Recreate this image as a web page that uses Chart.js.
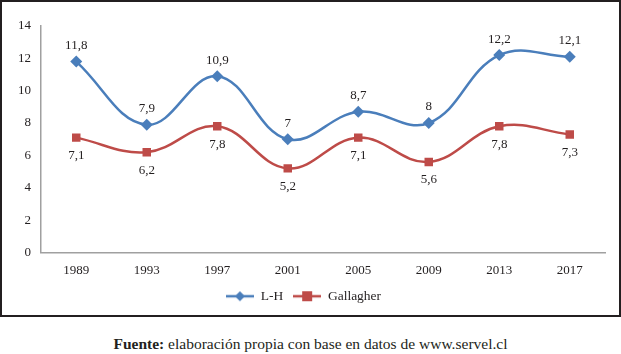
<!DOCTYPE html>
<html>
<head>
<meta charset="utf-8">
<script src="https://cdn.jsdelivr.net/npm/chart.js@4/dist/chart.umd.min.js"></script>
<style>
  body { margin: 0; background: #fff; width: 621px; height: 354px; position: relative; font-family: "Liberation Serif", "DejaVu Serif", serif; }
  #box { position: absolute; left: 0; top: 0; width: 617px; height: 313px; border: 2px solid #231f20; }
  #caption { position: absolute; left: 0; width: 621px; top: 335px; text-align: center; font-size: 15.5px; color: #231f20; font-family: "Liberation Serif", serif; }
</style>
</head>
<body>
<div id="box"><canvas id="chart" width="617" height="313"></canvas></div>
<div id="caption"><b>Fuente:</b> elaboración propia con base en datos de www.servel.cl</div>
<script>
const years = ['1989', '1993', '1997', '2001', '2005', '2009', '2013', '2017'];
const lhValues = [11.8, 7.9, 10.9, 7, 8.7, 8, 12.2, 12.1];
const gallagherValues = [7.1, 6.2, 7.8, 5.2, 7.1, 5.6, 7.8, 7.3];
const yTicks = [0, 2, 4, 6, 8, 10, 12, 14];

const blue = '#4a7ebb';
const red = '#be4b48';
const fontFamily = '"Liberation Serif", "DejaVu Serif", serif';

// legend icon: short line with marker in the middle
function legendIcon(color, shape) {
  const c = document.createElement('canvas');
  c.width = 28; c.height = 12;
  const g = c.getContext('2d');
  g.strokeStyle = color; g.lineWidth = 2.5;
  g.beginPath(); g.moveTo(0, 6); g.lineTo(28, 6); g.stroke();
  g.fillStyle = color;
  if (shape === 'diamond') {
    g.beginPath(); g.moveTo(14, 1); g.lineTo(19, 6); g.lineTo(14, 11); g.lineTo(9, 6); g.closePath(); g.fill();
  } else {
    g.fillRect(9, 1, 10, 10);
  }
  return c;
}

const valueLabels = {
  id: 'valueLabels',
  afterDatasetsDraw(chart) {
    const ctx = chart.ctx;
    ctx.save();
    ctx.font = '13px ' + fontFamily;
    ctx.fillStyle = '#231f20';
    ctx.textAlign = 'center';
    ctx.textBaseline = 'middle';
    chart.data.datasets.forEach((ds, i) => {
      const meta = chart.getDatasetMeta(i);
      meta.data.forEach((pt, j) => {
        const txt = String(ds.data[j]).replace('.', ',');
        const dy = i === 0 ? -16 : 18;
        ctx.fillText(txt, pt.x, pt.y + dy);
      });
    });
    ctx.restore();
  }
};

const config = {
  type: 'line',
  data: {
    labels: years,
    datasets: [
      {
        label: 'L-H',
        data: lhValues,
        borderColor: blue,
        backgroundColor: blue,
        borderWidth: 2.5,
        tension: 0.4,
        pointStyle: 'rectRot',
        pointRadius: 6,
        pointBorderWidth: 0
      },
      {
        label: 'Gallagher',
        data: gallagherValues,
        borderColor: red,
        backgroundColor: red,
        borderWidth: 2.5,
        tension: 0.4,
        pointStyle: 'rect',
        pointRadius: 6,
        pointBorderWidth: 0
      }
    ]
  },
  options: {
    responsive: false,
    animation: false,
    layout: { padding: { top: 24, right: 14, left: 0, bottom: 2 } },
    plugins: {
      tooltip: { enabled: false },
      legend: {
        position: 'bottom',
        labels: {
          font: { family: fontFamily, size: 13.5 },
          color: '#231f20',
          usePointStyle: true,
          pointStyleWidth: 28,
          padding: 10,
          generateLabels(chart) {
            return chart.data.datasets.map((ds, i) => ({
              text: ds.label,
              fillStyle: ds.borderColor,
              strokeStyle: ds.borderColor,
              pointStyle: legendIcon(ds.borderColor, i === 0 ? 'diamond' : 'square'),
              datasetIndex: i,
              fontColor: '#231f20'
            }));
          }
        }
      }
    },
    scales: {
      x: {
        offset: true,
        grid: { display: false, drawTicks: false },
        border: { color: '#a0a0a0', width: 1.5 },
        ticks: { font: { family: fontFamily, size: 13 }, color: '#231f20', padding: 10 },
        afterFit(scale) { scale.height = 27; }
      },
      y: {
        min: 0,
        max: 14,
        afterBuildTicks(scale) { scale.ticks = yTicks.map(v => ({ value: v })); },
        grid: { display: false, drawTicks: false },
        border: { color: '#a0a0a0', width: 1.5 },
        ticks: { font: { family: fontFamily, size: 13 }, color: '#231f20', padding: 10 },
        afterFit(scale) { scale.width = 39; }
      }
    }
  },
  plugins: [valueLabels]
};

new Chart(document.getElementById('chart').getContext('2d'), config);
</script>
</body>
</html>
